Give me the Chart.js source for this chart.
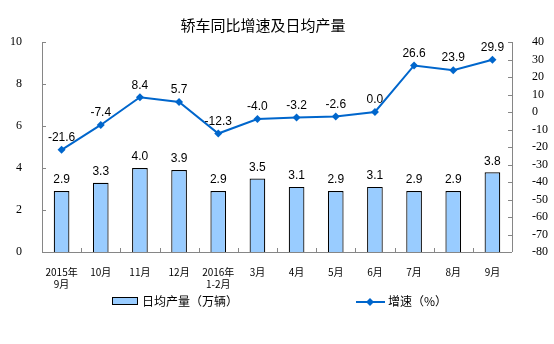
<!DOCTYPE html>
<html>
<head>
<meta charset="utf-8">
<script src="https://cdn.jsdelivr.net/npm/chart.js@4"></script>
<style>
    html, body { margin: 0; padding: 0; background: #fff; }
    #wrap { width: 554px; height: 344px; }
</style>
</head>
<body>
<div id="wrap"><canvas id="myChart" width="554" height="344"></canvas></div>
<script>
const categories = [['2015年', '9月'], '10月', '11月', '12月', ['2016年', '1-2月'], '3月', '4月', '5月', '6月', '7月', '8月', '9月'];
const dailyOutput = [2.9, 3.3, 4.0, 3.9, 2.9, 3.5, 3.1, 2.9, 3.1, 2.9, 2.9, 3.8];
const growthRate = [-21.6, -7.4, 8.4, 5.7, -12.3, -4.0, -3.2, -2.6, 0.0, 26.6, 23.9, 29.9];
const leftTicks = [0, 2, 4, 6, 8, 10];
const rightTicks = [-80, -70, -60, -50, -40, -30, -20, -10, 0, 10, 20, 30, 40];

const titleText = '轿车同比增速及日均产量';
const barLabel = '日均产量（万辆）';
const lineLabel = '增速（%）';

const cjk = "'Noto Sans CJK SC', 'Noto Sans', sans-serif";
const axisGray = '#868686';
const lineBlue = '#0066CC';
const barBlue = '#99CCFF';

// titles, inside ticks, data labels and the legend
const decorations = {
    id: 'decorations',
    afterDatasetsDraw(chart) {
        const ctx = chart.ctx;
        const area = chart.chartArea;
        const yL = chart.scales.yL;
        const yR = chart.scales.yR;

        ctx.save();
        // axis lines
        ctx.strokeStyle = axisGray;
        ctx.lineWidth = 1;
        ctx.beginPath();
        ctx.moveTo(Math.round(area.left) + 0.5, area.top);
        ctx.lineTo(Math.round(area.left) + 0.5, area.bottom);
        ctx.moveTo(Math.round(area.right) + 0.5, area.top);
        ctx.lineTo(Math.round(area.right) + 0.5, area.bottom);
        ctx.moveTo(area.left, Math.round(area.bottom) + 0.5);
        ctx.lineTo(area.right, Math.round(area.bottom) + 0.5);
        leftTicks.forEach(v => {
            const py = Math.round(yL.getPixelForValue(v)) + 0.5;
            ctx.moveTo(area.left, py);
            ctx.lineTo(area.left + 4, py);
        });
        rightTicks.forEach(v => {
            const py = Math.round(yR.getPixelForValue(v)) + 0.5;
            ctx.moveTo(area.right, py);
            ctx.lineTo(area.right - 4, py);
        });
        const step = (area.right - area.left) / categories.length;
        for (let i = 1; i < categories.length; i++) {
            const px = Math.round(area.left + i * step) + 0.5;
            ctx.moveTo(px, area.bottom);
            ctx.lineTo(px, area.bottom - 4);
        }
        ctx.stroke();

        // value labels
        ctx.fillStyle = '#000';
        ctx.font = "12px 'Liberation Sans', Arial, sans-serif";
        ctx.textAlign = 'center';
        ctx.textBaseline = 'bottom';
        chart.getDatasetMeta(1).data.forEach((bar, i) => {
            ctx.fillText(dailyOutput[i].toFixed(1), bar.x, bar.y - 5);
        });
        chart.getDatasetMeta(0).data.forEach((pt, i) => {
            ctx.fillText(growthRate[i].toFixed(1), pt.x, pt.y - 6);
        });

        // title
        ctx.font = '15px ' + cjk;
        ctx.textBaseline = 'middle';
        ctx.fillText(titleText, 263, 25);

        // legend
        ctx.font = '12px ' + cjk;
        ctx.textAlign = 'left';
        ctx.fillStyle = barBlue;
        ctx.fillRect(112, 297, 25, 7);
        ctx.strokeStyle = '#000';
        ctx.strokeRect(112.5, 297.5, 25, 7);
        ctx.fillStyle = '#000';
        ctx.fillText(barLabel, 142, 301);

        ctx.strokeStyle = lineBlue;
        ctx.lineWidth = 2;
        ctx.beginPath();
        ctx.moveTo(356, 302);
        ctx.lineTo(385, 302);
        ctx.stroke();
        ctx.fillStyle = lineBlue;
        ctx.beginPath();
        ctx.moveTo(370, 298);
        ctx.lineTo(374, 302);
        ctx.lineTo(370, 306);
        ctx.lineTo(366, 302);
        ctx.closePath();
        ctx.fill();
        ctx.fillStyle = '#000';
        ctx.fillText(lineLabel, 388, 301);
        ctx.restore();
    }
};

new Chart(document.getElementById('myChart'), {
    data: {
        labels: categories,
        datasets: [{
            type: 'line',
            label: lineLabel,
            data: growthRate,
            yAxisID: 'yR',
            order: 0,
            borderColor: lineBlue,
            backgroundColor: lineBlue,
            borderWidth: 2,
            pointStyle: 'rectRot',
            pointRadius: 4,
            pointBorderWidth: 0,
            tension: 0,
            fill: false
        }, {
            type: 'bar',
            label: barLabel,
            data: dailyOutput,
            yAxisID: 'yL',
            order: 1,
            backgroundColor: barBlue,
            borderColor: '#000',
            borderWidth: 1.2,
            barPercentage: 0.4,
            categoryPercentage: 1.0
        }]
    },
    options: {
        responsive: false,
        animation: false,
        layout: { padding: { top: 42, left: 0, right: 0, bottom: 0 } },
        plugins: {
            legend: { display: false },
            title: { display: false },
            tooltip: { enabled: false }
        },
        scales: {
            x: {
                offset: true,
                grid: { display: false },
                border: { display: false },
                afterFit: s => { s.height = 92; },
                ticks: {
                    maxRotation: 0,
                    autoSkip: false,
                    padding: 6,
                    color: '#000',
                    font: { family: cjk, size: 10 }
                }
            },
            yL: {
                type: 'linear',
                position: 'left',
                min: 0,
                max: 10,
                grid: { display: false },
                border: { display: false },
                afterFit: s => { s.width = 42; },
                afterBuildTicks: s => { s.ticks = leftTicks.map(v => ({ value: v })); },
                ticks: {
                    padding: 12,
                    color: '#000',
                    font: { family: "'Liberation Serif', serif", size: 12 }
                }
            },
            yR: {
                type: 'linear',
                position: 'right',
                min: -80,
                max: 40,
                grid: { display: false },
                border: { display: false },
                afterFit: s => { s.width = 42; },
                afterBuildTicks: s => { s.ticks = rightTicks.map(v => ({ value: v })); },
                ticks: {
                    padding: 12,
                    color: '#000',
                    font: { family: "'Liberation Serif', serif", size: 12 }
                }
            }
        }
    },
    plugins: [decorations]
});
</script>
</body>
</html>
